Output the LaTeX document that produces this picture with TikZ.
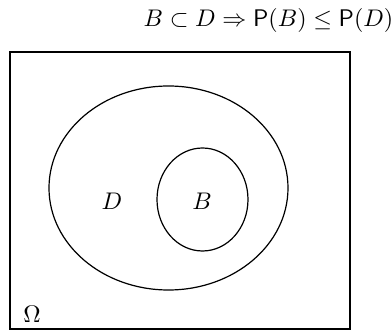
\documentclass[tikz,border=0pt]{standalone}
\usepackage{tikz}
\usetikzlibrary{positioning}

\begin{document}
\begin{tikzpicture}[
        x=0.016cm, y=-0.016cm,
        set/.style={draw, line width=0.55pt},
        setlabel/.style={inner sep=0pt, font=\fontsize{10.7}{13}\selectfont}
    ]
        \useasboundingbox (0,0) rectangle (392,334);
        \draw[set] (10,52) rectangle (350,329);
        \draw[set] (168.5,188) ellipse [x radius=119.5, y radius=102];
        \draw[set] (202.5,199.5) ellipse [x radius=45.5, y radius=51.5];
        
        \node[setlabel] (d) at (112,201) {$D$};
        \node[setlabel] (b) at (202,201) {$B$};
        \node[setlabel] (omega) at (32,314) {$\Omega$};
        \node[setlabel] (title) at (268.5,20) {$B\subset D\Rightarrow \mathsf{P}(B)\leq\mathsf{P}(D)$};
    \end{tikzpicture}
\end{document}
